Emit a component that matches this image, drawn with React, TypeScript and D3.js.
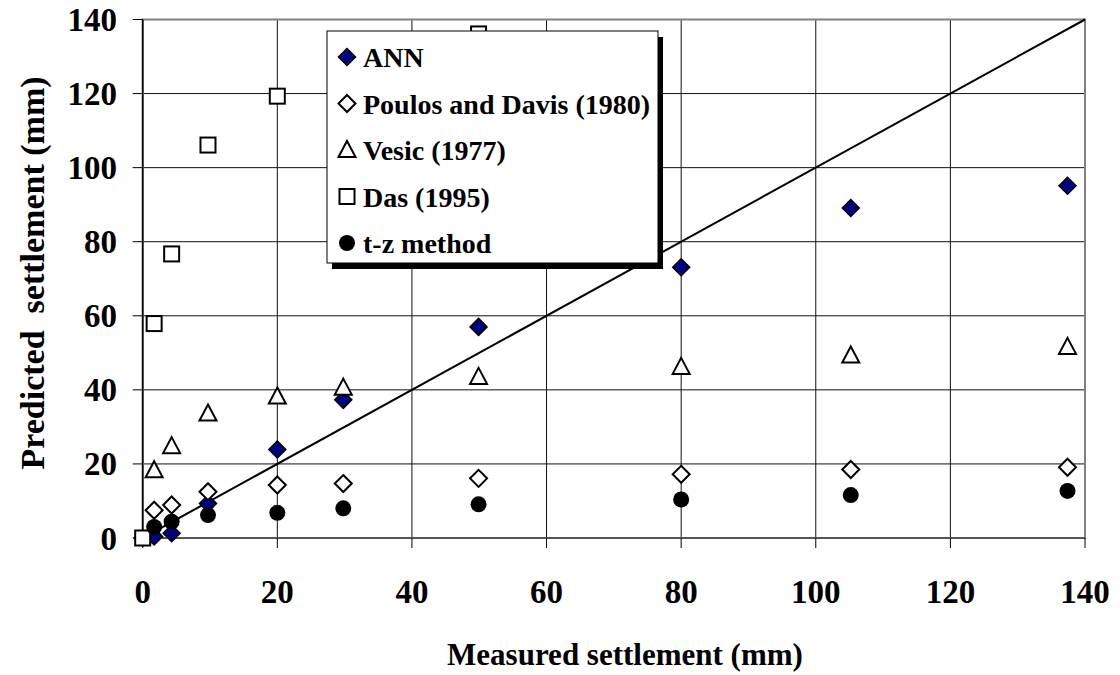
import React from 'react';
import * as d3 from 'd3';

// measured settlement (mm) shared by the series
const measured = [0, 1.7, 4.3, 9.7, 20, 29.8, 49.9, 80, 105.2, 137.4];

const annValues = [0, 0.4, 1.3, 9.3, 23.9, 37.3, 57.0, 73.1, 89.1, 95.1];
const poulosValues = [null, 7.5, 8.9, 12.5, 14.3, 14.7, 16.1, 17.2, 18.5, 19.1];
const vesicValues = [null, 18.3, 24.8, 33.6, 38.2, 40.6, 43.5, 46.2, 49.3, 51.6];
const dasValues = [0, 57.9, 76.7, 106.1, 119.3, null, 136.1, null, null, null];
const tzValues = [null, 3.0, 4.4, 6.2, 6.8, 8.0, 9.1, 10.4, 11.6, 12.7];

const ticks = [0, 20, 40, 60, 80, 100, 120, 140];

const legendLabels = ['ANN', 'Poulos and Davis (1980)', 'Vesic (1977)', 'Das (1995)', 't-z method'];

const W = 1120;
const H = 675;
const font = 'Liberation Serif, DejaVu Serif, serif';

const x = d3.scaleLinear().domain([0, 140]).range([142.7, 1085]);
const y = d3.scaleLinear().domain([0, 140]).range([538, 19.5]);

type Shape = 'ann' | 'diamond' | 'triangle' | 'square' | 'circle';

function Marker({ shape, cx, cy }: { shape: Shape; cx: number; cy: number }) {
  if (shape === 'ann' || shape === 'diamond') {
    const r = 8.5;
    return (
      <path
        d={`M${cx},${cy - r}L${cx + r},${cy}L${cx},${cy + r}L${cx - r},${cy}Z`}
        fill={shape === 'ann' ? '#000080' : '#fff'}
        stroke="#000"
        strokeWidth={shape === 'ann' ? 1.5 : 2}
      />
    );
  }
  if (shape === 'triangle') {
    return (
      <path
        d={`M${cx},${cy - 9}L${cx + 8.5},${cy + 7}L${cx - 8.5},${cy + 7}Z`}
        fill="#fff"
        stroke="#000"
        strokeWidth={2}
      />
    );
  }
  if (shape === 'square') {
    return <rect x={cx - 7.5} y={cy - 7.5} width={15} height={15} fill="#fff" stroke="#000" strokeWidth={2} />;
  }
  return <circle cx={cx} cy={cy} r={8} fill="#000" />;
}

const series: { shape: Shape; values: (number | null)[] }[] = [
  { shape: 'ann', values: annValues },
  { shape: 'diamond', values: poulosValues },
  { shape: 'triangle', values: vesicValues },
  { shape: 'square', values: dasValues },
  { shape: 'circle', values: tzValues },
];

export default function App() {
  const [x0, x1] = x.range();
  const [y0, y1] = y.range();

  return (
    <div style={{ position: 'absolute', left: 0, top: 0 }}>
      <svg width={W} height={H} style={{ display: 'block', background: '#fff' }}>
        {/* gridlines */}
        {ticks.map(t => (
          <line key={'gy' + t} x1={x0} x2={x1} y1={y(t)} y2={y(t)} stroke="#111" strokeWidth={1} />
        ))}
        {ticks.map(t => (
          <line key={'gx' + t} x1={x(t)} x2={x(t)} y1={y0} y2={y1} stroke="#111" strokeWidth={1} />
        ))}
        {/* plot frame */}
        <rect x={x0} y={y1} width={x1 - x0} height={y0 - y1} fill="none" stroke="#808080" strokeWidth={2} />
        {/* axes */}
        <line x1={x0} x2={x0} y1={y1} y2={y0} stroke="#000" strokeWidth={1.5} />
        <line x1={x0} x2={x1} y1={y0} y2={y0} stroke="#555" strokeWidth={2} />
        {ticks.map(t => (
          <line key={'tx' + t} x1={x(t)} x2={x(t)} y1={y0} y2={y0 + 10} stroke="#000" strokeWidth={1} />
        ))}
        {ticks.map(t => (
          <line key={'ty' + t} x1={x0 - 10} x2={x0} y1={y(t)} y2={y(t)} stroke="#000" strokeWidth={1} />
        ))}
        <g fontFamily={font} fontWeight="bold">
          {/* tick labels */}
          {ticks.map(t => (
            <text key={'lx' + t} x={x(t)} y={603} textAnchor="middle" fontSize={33}>
              {t}
            </text>
          ))}
          {ticks.map(t => (
            <text key={'ly' + t} x={117} y={y(t) + 11.5} textAnchor="end" fontSize={33}>
              {t}
            </text>
          ))}
        </g>
        {/* 1:1 line */}
        <line x1={x(0)} y1={y(0)} x2={x(140)} y2={y(140)} stroke="#000" strokeWidth={2} />
        {/* data */}
        {series.map((s, si) =>
          s.values.map((v, i) =>
            v === null ? null : <Marker key={si + '-' + i} shape={s.shape} cx={x(measured[i])} cy={y(v)} />
          )
        )}
        {/* legend */}
        <rect x={332} y={37} width={331} height={232} fill="#000" />
        <rect x={327} y={31} width={331} height={232} fill="#fff" stroke="#000" strokeWidth={1} />
        {legendLabels.map((l, i) => (
          <g key={l}>
            <Marker shape={series[i].shape} cx={347} cy={57 + i * 46.5} />
            <text x={363} y={57 + i * 46.5 + 10} fontSize={28} fontWeight="bold" fontFamily={font}>
              {l}
            </text>
          </g>
        ))}
        {/* axis titles */}
        <text x={625} y={665} textAnchor="middle" fontSize={31} fontWeight="bold" fontFamily={font}>
          Measured settlement (mm)
        </text>
        <text
          transform={`translate(44,273) rotate(-90)`}
          textAnchor="middle"
          fontSize={34}
          fontWeight="bold"
          fontFamily={font}
          style={{ whiteSpace: 'pre' }}
        >
          {'Predicted  settlement (mm)'}
        </text>
      </svg>
    </div>
  );
}
